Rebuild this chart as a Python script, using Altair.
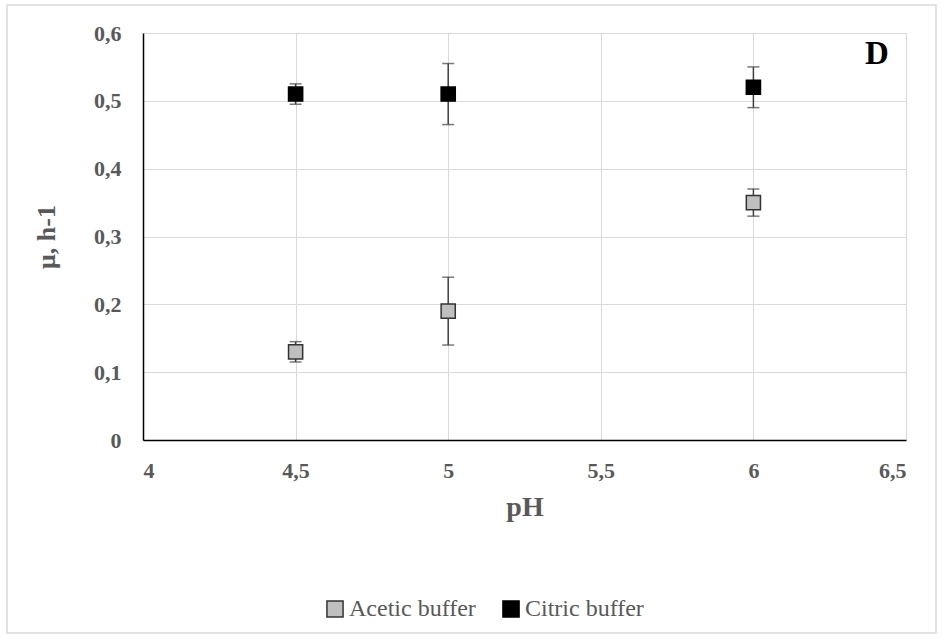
import altair as alt
import pandas as pd

series = ["Acetic buffer"] * 3 + ["Citric buffer"] * 3
ph = [4.5, 5.0, 6.0, 4.5, 5.0, 6.0]
mu = [0.13, 0.19, 0.35, 0.51, 0.51, 0.52]
err = [0.015, 0.05, 0.02, 0.015, 0.045, 0.03]

df = pd.DataFrame({"series": series, "pH": ph, "mu": mu, "err": err})
df["lo"] = df["mu"] - df["err"]
df["hi"] = df["mu"] + df["err"]

FONT = "Times New Roman, Liberation Serif, serif"
GRAY = "#595959"

W, H = 763, 407
PL, PT = 143, 33

LBL = "replace(format(datum.value, '~g'), '.', ',')"

x = alt.X("pH:Q", scale=alt.Scale(domain=[4, 6.5], nice=False),
          axis=alt.Axis(values=[4, 4.5, 5, 5.5, 6, 6.5], title="pH",
                        labelExpr=LBL,
                        labelFont=FONT, labelFontSize=22, labelFontWeight="bold", labelColor=GRAY,
                        labelPadding=20, ticks=False, domainColor="#000000", domainWidth=1.5,
                        titleFont=FONT, titleFontSize=28, titleFontWeight="bold", titleColor=GRAY,
                        titlePadding=12, gridColor="#d9d9d9"))
y = alt.Y("mu:Q", scale=alt.Scale(domain=[0, 0.6], nice=False),
          axis=alt.Axis(values=[0, 0.1, 0.2, 0.3, 0.4, 0.5, 0.6], title="μ, h-1",
                        labelExpr=LBL,
                        labelFont=FONT, labelFontSize=22, labelFontWeight="bold", labelColor=GRAY,
                        labelPadding=22, ticks=False, domainColor="#000000", domainWidth=1.5,
                        titleFont=FONT, titleFontSize=26, titleFontWeight="bold", titleColor=GRAY,
                        titlePadding=34, gridColor="#d9d9d9"))

base = alt.Chart(df)

rules = base.mark_rule(color="#404040", strokeWidth=1.5).encode(
    x=x, y=alt.Y("lo:Q"), y2="hi:Q")
caps_lo = base.mark_tick(color="#404040", thickness=1.5, size=12, orient="horizontal").encode(
    x=x, y=alt.Y("lo:Q"))
caps_hi = base.mark_tick(color="#404040", thickness=1.5, size=12, orient="horizontal").encode(
    x=x, y=alt.Y("hi:Q"))

points = base.mark_point(shape="square", filled=True, size=200, strokeWidth=1.5, opacity=1).encode(
    x=x, y=y,
    fill=alt.Fill("series:N", scale=alt.Scale(domain=["Acetic buffer", "Citric buffer"],
                                              range=["#bfbfbf", "#000000"]),
                  legend=alt.Legend(title=None, orient="none", legendX=180, legendY=564,
                                    direction="horizontal", symbolType="square", symbolSize=260,
                                    symbolStrokeWidth=1.5, labelFont=FONT, labelFontSize=24,
                                    labelColor=GRAY, columnPadding=23, labelOffset=2)),
    stroke=alt.Stroke("series:N", scale=alt.Scale(domain=["Acetic buffer", "Citric buffer"],
                                                  range=["#333333", "#000000"]), legend=None),
)

label = alt.Chart(pd.DataFrame({"t": ["D"]})).mark_text(
    font=FONT, fontSize=33, fontWeight="bold", color="#000000", align="center", baseline="middle"
).encode(text="t:N", x=alt.value(877 - PL), y=alt.value(54 - PT))

frame = alt.Chart(pd.DataFrame({"a": [0]})).mark_rect(
    fill=None, stroke="#d9d9d9", strokeWidth=1.5
).encode(x=alt.value(7 - PL), x2=alt.value(936 - PL), y=alt.value(5 - PT), y2=alt.value(633 - PT))

chart = alt.layer(frame, rules, caps_lo, caps_hi, points, label).properties(
    width=W, height=H,
    autosize=alt.AutoSizeParams(type="none"),
    padding={"left": PL, "top": PT, "right": 942 - PL - W, "bottom": 638 - PT - H},
    background="white",
).configure_view(stroke=None)

chart.save("out.html", embed_options={"renderer": "svg", "actions": False})
